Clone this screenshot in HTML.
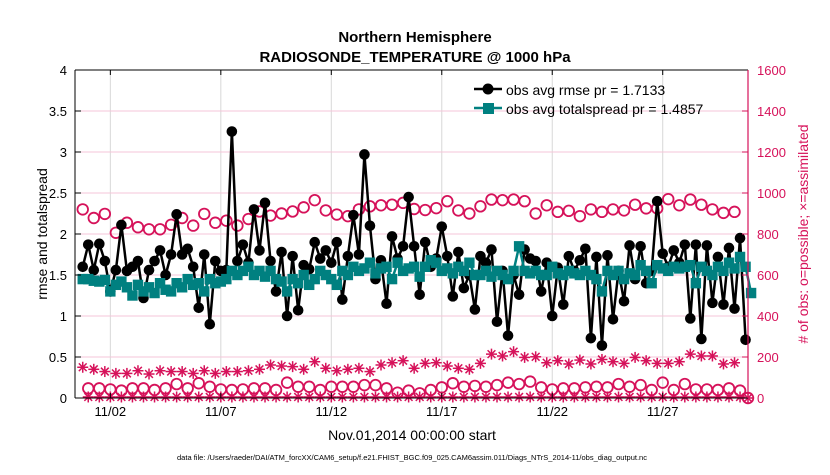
<!DOCTYPE html>
<html><head><meta charset="utf-8"><style>
body{margin:0;background:#fff;width:830px;height:470px;overflow:hidden;font-family:"Liberation Sans",sans-serif}
svg text{font-family:"Liberation Sans",sans-serif}
</style></head><body>
<svg id="chart" width="830" height="470">
<g id="grid"></g>
<g id="series"></g>
<g id="axes"></g>
<text x="415" y="42" text-anchor="middle" font-size="15" font-weight="bold">Northern Hemisphere</text>
<text x="415" y="62" text-anchor="middle" font-size="15" font-weight="bold">RADIOSONDE_TEMPERATURE @ 1000 hPa</text>
<text x="412" y="440" text-anchor="middle" font-size="14">Nov.01,2014 00:00:00 start</text>
<text x="47" y="234" text-anchor="middle" font-size="14" transform="rotate(-90 47 234)">rmse and totalspread</text>
<text x="808" y="234" text-anchor="middle" font-size="14" fill="#d6125a" transform="rotate(-90 808 234)"># of obs: o=possible; ×=assimilated</text>
<text x="412" y="460" text-anchor="middle" font-size="7.5">data file: /Users/raeder/DAI/ATM_forcXX/CAM6_setup/f.e21.FHIST_BGC.f09_025.CAM6assim.011/Diags_NTrS_2014-11/obs_diag_output.nc</text>
<g>
<line x1="474" y1="89" x2="502" y2="89" stroke="#000" stroke-width="2.5"/>
<circle cx="488" cy="89" r="5.5" fill="#000"/>
<text x="506" y="95" font-size="14">obs avg rmse pr = 1.7133</text>
<line x1="474" y1="108" x2="502" y2="108" stroke="#008080" stroke-width="2.5"/>
<rect x="483" y="103" width="11" height="11" fill="#008080"/>
<text x="506" y="114" font-size="14">obs avg totalspread pr = 1.4857</text>
</g>
</svg>
<script>
const rmse=[1.6,1.87,1.56,1.88,1.67,1.3,1.56,2.11,1.55,1.6,1.67,1.22,1.56,1.67,1.8,1.5,1.75,2.24,1.75,1.82,1.6,1.1,1.75,0.9,1.67,1.55,1.56,3.25,1.67,1.87,
1.65,2.3,1.8,2.38,1.67,1.3,1.78,1.0,1.73,1.07,1.62,1.57,1.9,1.7,1.8,1.65,1.9,1.2,1.73,2.23,1.75,2.97,2.1,1.45,1.68,1.15,1.97,1.7,1.85,2.45,
1.85,1.26,1.9,1.6,1.7,2.09,1.73,1.24,1.78,1.34,1.5,1.08,1.73,1.65,1.81,0.93,1.55,0.76,1.5,1.26,1.81,1.7,1.67,1.3,1.65,1.0,1.59,1.14,1.73,
1.55,1.68,1.82,0.73,1.72,0.64,1.74,0.96,1.55,1.18,1.86,1.45,1.85,1.4,1.55,2.4,1.76,1.6,1.8,1.65,1.87,0.97,1.87,0.72,1.86,1.16,1.72,1.14,1.83,1.09,1.95,0.71];
const spread=[1.45,1.45,1.43,1.42,1.44,1.3,1.38,1.42,1.35,1.25,1.38,
1.3,1.35,1.28,1.4,1.32,1.3,1.4,1.35,1.45,1.38,
1.4,1.3,1.45,1.4,1.42,1.45,1.55,1.5,1.55,1.6,
1.5,1.55,1.48,1.55,1.45,1.42,1.3,1.45,1.4,1.5,
1.38,1.45,1.55,1.5,1.45,1.38,1.55,1.5,1.6,1.55,
1.58,1.65,1.52,1.58,1.6,1.45,1.65,1.55,1.58,1.6,
1.48,1.6,1.68,1.65,1.55,1.58,1.52,1.6,1.55,1.65,
1.5,1.5,1.55,1.48,1.55,1.5,1.45,1.55,1.85,1.55,
1.52,1.55,1.5,1.5,1.6,1.52,1.5,1.55,1.52,1.5,
1.55,1.5,1.45,1.3,1.55,1.5,1.55,1.45,1.52,1.5,
1.62,1.55,1.4,1.62,1.58,1.55,1.6,1.58,1.6,1.62,
1.4,1.6,1.55,1.5,1.6,1.55,1.65,1.58,1.72,1.6,1.28];
const possAll=[920,878,898,806,855,833,823,823,845,878,841,898,855,865,841,873,910,890,900,910,930,965,915,895,887,920,935,940,943,952,
922,917,926,960,915,900,935,968,965,968,960,900,940,908,913,887,920,908,920,915,943,925,925,970,940,968,943,920,903,908];
const assimAll=[150,140,129,120,120,133,117,133,129,129,120,133,120,129,129,133,140,161,156,153,140,177,145,133,140,145,129,161,172,182,
145,169,172,156,145,140,169,214,205,226,198,201,172,182,166,185,166,188,177,169,198,182,169,169,177,214,205,205,166,172];
const possLow=[47,47,42,36,47,47,39,47,68,47,72,55,42,39,42,47,47,39,75,55,55,39,55,55,55,63,63,47,26,36,
23,39,52,72,55,59,55,63,75,68,80,52,42,47,47,52,55,52,68,55,63,39,75,39,68,42,42,39,47,36];
const assimLow=possLow.map(()=>5);
const leftTicks=["0","0.5","1","1.5","2","2.5","3","3.5","4"];
const rightTicks=["0","200","400","600","800","1000","1200","1400","1600"];
const dateTicks=["11/02","11/07","11/12","11/17","11/22","11/27"];
const dateDays=[1,6,11,16,21,26];

const NS="http://www.w3.org/2000/svg";
const L=75,R=748,T=70,B=398;
const xDay=d=>L+(d+0.6)/(30.46)*(R-L);
const yL=v=>B-v/4*(B-T);
const yR=v=>B-v/1600*(B-T);
const RED="#d6125a";
function mk(tag,attrs,parent){const e=document.createElementNS(NS,tag);for(const k in attrs)e.setAttribute(k,attrs[k]);parent.appendChild(e);return e;}
const grid=document.getElementById('grid'),axes=document.getElementById('axes'),ser=document.getElementById('series');

dateDays.forEach((d,i)=>{const x=xDay(d);
 const g=mk('line',{x1:x,x2:x,y1:T,y2:B,stroke:"#d8d8d8","stroke-width":1},grid);
 
 
 const t=mk('text',{x:x,y:B+18,"text-anchor":"middle","font-size":13},axes);t.textContent=dateTicks[i];
 
 
 mk('line',{x1:x,x2:x,y1:B,y2:B-5,stroke:"#000"},axes);mk('line',{x1:x,x2:x,y1:T,y2:T+5,stroke:"#000"},axes);
});
leftTicks.forEach((s,i)=>{const y=yL(i*0.5);
 if(i>0&&i<8){const g=mk('line',{x1:L,x2:R,y1:y,y2:y,stroke:"#f4c6d8","stroke-width":1},grid);
 
 }
 const t=mk('text',{x:L-8,y:y+5,"text-anchor":"end","font-size":13},axes);t.textContent=s;
 
 
 mk('line',{x1:L,x2:L+6,y1:y,y2:y,stroke:"#000"},axes);
});
rightTicks.forEach((s,i)=>{const y=yR(i*200);
 const t=mk('text',{x:R+9,y:y+5,"font-size":13,fill:RED},axes);t.textContent=s;
 
 
 mk('line',{x1:R-6,x2:R,y1:y,y2:y,stroke:RED},axes);
});
mk('line',{x1:L,x2:L,y1:T,y2:B,stroke:"#000"},axes);
mk('line',{x1:L,x2:R,y1:T,y2:T,stroke:"#000"},axes);
mk('line',{x1:L,x2:R,y1:B,y2:B,stroke:"#000"},axes);
mk('line',{x1:R,x2:R,y1:T,y2:B,stroke:RED,"stroke-width":1.2},axes);

function star(x,y,parent,name){const g=mk('g',{stroke:RED,"stroke-width":1.5},parent);
 
 
 for(let a=0;a<4;a++){const ang=a*Math.PI/4;mk('line',{x1:x-5.5*Math.cos(ang),y1:y-5.5*Math.sin(ang),x2:x+5.5*Math.cos(ang),y2:y+5.5*Math.sin(ang)},g);}}
const x6=i=>xDay(-0.25+i*0.25);
const x12=j=>xDay(-0.25+j*0.5);
const x12b=j=>xDay(0+j*0.5);
possAll.forEach((v,j)=>{const c=mk('circle',{cx:x12(j),cy:yR(v),r:5.3,fill:"none",stroke:RED,"stroke-width":1.8},ser);
 
 });
assimAll.forEach((v,j)=>star(x12(j),yR(v),ser,'assimilated-obs-point'));
possLow.forEach((v,j)=>{const c=mk('circle',{cx:x12b(j),cy:yR(v),r:5.3,fill:"none",stroke:RED,"stroke-width":1.8},ser);
 
 });
assimLow.forEach((v,j)=>star(x12b(j),yR(v),ser,'assimilated-obs-low-point'));
const endC=mk('circle',{cx:R,cy:B,r:5.3,fill:"none",stroke:RED,"stroke-width":1.8},ser);


star(R,B,ser,'assimilated-obs-end-point');

const pr=mk('polyline',{points:rmse.map((v,i)=>x6(i)+","+yL(v)).join(" "),fill:"none",stroke:"#000","stroke-width":2.5},ser);


rmse.forEach((v,i)=>{const c=mk('circle',{cx:x6(i),cy:yL(v),r:5.3,fill:"#000"},ser);
 
 });
const ps=mk('polyline',{points:spread.map((v,i)=>x6(i)+","+yL(v)).join(" "),fill:"none",stroke:"#008080","stroke-width":2.5},ser);


spread.forEach((v,i)=>{const r=mk('rect',{x:x6(i)-5.2,y:yL(v)-5.2,width:10.4,height:10.4,fill:"#008080"},ser);
 
 });
</script>
</body></html>
